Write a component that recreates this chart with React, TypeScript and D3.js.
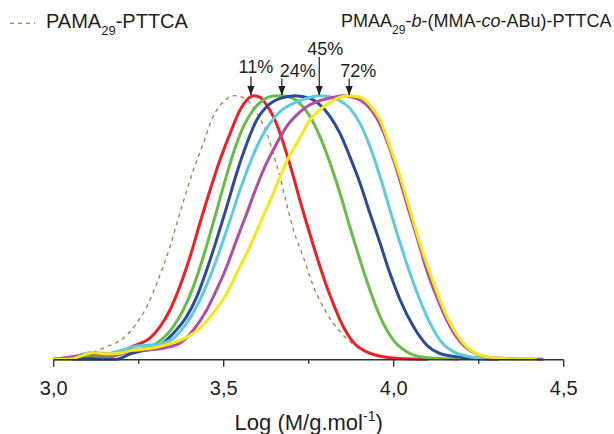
import React from "react";
import * as d3 from "d3";

type Pt = [number, number];

// Series: [log(M), normalised intensity]
const pama: Pt[] = [[3.000,0],[3.048,0.003],[3.107,0.023],[3.156,0.048],[3.205,0.080],[3.244,0.137],[3.274,0.200],[3.303,0.288],[3.342,0.427],[3.371,0.554],[3.411,0.718],[3.440,0.819],[3.469,0.921],[3.499,0.977],[3.533,1.0],[3.568,0.984],[3.597,0.934],[3.626,0.860],[3.646,0.780],[3.666,0.690],[3.685,0.590],[3.705,0.491],[3.734,0.389],[3.764,0.276],[3.803,0.175],[3.842,0.105],[3.891,0.048],[3.940,0.016],[3.989,0.004],[4.019,0]];
const s11: Pt[] = [[3.000,0],[3.058,0.005],[3.107,0.010],[3.156,0.010],[3.195,0.020],[3.234,0.050],[3.283,0.080],[3.313,0.124],[3.342,0.187],[3.371,0.276],[3.401,0.389],[3.430,0.516],[3.460,0.642],[3.489,0.756],[3.519,0.857],[3.548,0.946],[3.568,0.984],[3.587,1.0],[3.607,0.994],[3.626,0.965],[3.646,0.921],[3.666,0.857],[3.685,0.781],[3.705,0.693],[3.724,0.604],[3.744,0.516],[3.774,0.389],[3.803,0.276],[3.822,0.212],[3.842,0.150],[3.881,0.065],[3.930,0.023],[3.989,0.006],[4.058,0.001],[4.100,0]];
const s24: Pt[] = [[3.000,0],[3.058,0.010],[3.107,0.015],[3.156,0.010],[3.195,0.020],[3.234,0.035],[3.254,0.038],[3.303,0.061],[3.352,0.124],[3.381,0.187],[3.411,0.276],[3.440,0.389],[3.469,0.516],[3.499,0.655],[3.528,0.781],[3.558,0.883],[3.587,0.946],[3.616,0.984],[3.646,0.999],[3.671,1.0],[3.705,0.990],[3.724,0.971],[3.754,0.921],[3.783,0.845],[3.813,0.744],[3.842,0.630],[3.871,0.503],[3.901,0.377],[3.930,0.263],[3.960,0.162],[3.999,0.073],[4.038,0.029],[4.087,0.008],[4.156,0.002],[4.190,0]];
const s35: Pt[] = [[3.000,0],[3.185,0],[3.224,0.020],[3.254,0.030],[3.303,0.045],[3.352,0.099],[3.391,0.162],[3.421,0.238],[3.450,0.339],[3.479,0.453],[3.509,0.579],[3.538,0.706],[3.568,0.819],[3.597,0.908],[3.626,0.958],[3.666,0.990],[3.710,1.0],[3.754,0.990],[3.783,0.965],[3.813,0.921],[3.842,0.857],[3.871,0.769],[3.901,0.668],[3.930,0.554],[3.960,0.440],[3.989,0.326],[4.019,0.225],[4.058,0.124],[4.097,0.054],[4.136,0.022],[4.195,0.008],[4.254,0.002],[4.310,0]];
const s45: Pt[] = [[3.000,0],[3.048,0.003],[3.087,0.020],[3.107,0.025],[3.156,0.022],[3.195,0.033],[3.234,0.048],[3.283,0.054],[3.313,0.058],[3.352,0.080],[3.391,0.137],[3.430,0.225],[3.460,0.314],[3.489,0.415],[3.519,0.529],[3.548,0.642],[3.577,0.744],[3.607,0.832],[3.636,0.895],[3.666,0.940],[3.705,0.971],[3.744,0.990],[3.781,1.0],[3.813,0.996],[3.842,0.981],[3.871,0.952],[3.901,0.895],[3.930,0.807],[3.960,0.693],[3.989,0.567],[4.019,0.440],[4.048,0.326],[4.077,0.225],[4.107,0.137],[4.136,0.073],[4.175,0.029],[4.225,0.010],[4.274,0.004],[4.330,0.001],[4.440,0]];
const s60: Pt[] = [[3.000,0],[3.058,0.010],[3.107,0.020],[3.156,0.015],[3.195,0.020],[3.234,0.033],[3.283,0.036],[3.332,0.045],[3.371,0.061],[3.411,0.111],[3.450,0.187],[3.479,0.263],[3.509,0.352],[3.538,0.453],[3.568,0.554],[3.597,0.655],[3.626,0.744],[3.656,0.819],[3.685,0.883],[3.715,0.927],[3.744,0.958],[3.783,0.981],[3.822,0.994],[3.852,1.0],[3.891,0.990],[3.921,0.965],[3.950,0.915],[3.979,0.832],[4.009,0.718],[4.038,0.592],[4.068,0.465],[4.097,0.339],[4.126,0.238],[4.156,0.149],[4.195,0.067],[4.244,0.020],[4.293,0.006],[4.352,0.002],[4.440,0]];
const s72: Pt[] = [[3.000,0],[3.048,0],[3.087,0.016],[3.117,0.025],[3.156,0.020],[3.195,0.023],[3.224,0.033],[3.254,0.037],[3.303,0.046],[3.352,0.063],[3.401,0.090],[3.430,0.118],[3.469,0.175],[3.509,0.250],[3.548,0.352],[3.577,0.427],[3.607,0.516],[3.646,0.630],[3.685,0.750],[3.724,0.840],[3.754,0.908],[3.783,0.946],[3.813,0.975],[3.842,0.994],[3.869,1.0],[3.901,0.994],[3.930,0.965],[3.960,0.908],[3.989,0.807],[4.019,0.693],[4.048,0.567],[4.077,0.440],[4.107,0.326],[4.136,0.225],[4.166,0.137],[4.205,0.061],[4.254,0.016],[4.313,0.004],[4.372,0.001],[4.420,0]];

const seriesData = [s11, s24, s35, s45, s60, s72];
const seriesColors = ["#ee1f25", "#68bd46", "#2b4a9c", "#5fcadf", "#ad4fa2", "#f4e818"];

const majorTicks = [3.0, 3.5, 4.0, 4.5];
const minorTicks = [3.25, 3.75, 4.25];

const arrowLabels = ["11%", "24%", "45%", "72%"];
const arrowPeaks = [3.580, 3.671, 3.781, 3.869];

const W = 614, H = 434;
const x = d3.scaleLinear().domain([3, 4.5]).range([53.7, 563.7]);
const y = d3.scaleLinear().domain([0, 1]).range([359.3, 95.7]);
const line = d3.line<Pt>().x(d => x(d[0])).y(d => y(d[1])).curve(d3.curveMonotoneX);
const fmt = d3.formatLocale({ decimal: ",", thousands: ".", grouping: [3], currency: ["", ""] }).format(".1f");

const FONT = "'Liberation Sans', Arial, Helvetica, sans-serif";
const TXT = "#231f20";

// label placement (offsets from arrow x, baseline y, arrow top)
const labelDx = [5, 16, 6, 9];
const labelY = [73.3, 76.7, 54.5, 76.7];
const arrowTop = [76.5, 78.5, 57, 78.5];

export default function App() {
  const axisY = 359.8;
  return (
    <svg width={W} height={H} style={{ position: "absolute", left: 0, top: 0, background: "#fff" }} fontFamily={FONT}>
      <rect width={W} height={H} fill="#fff" />
      <defs>
        <marker id="ah" viewBox="0 0 8 10" refX="4" refY="10" markerWidth="8" markerHeight="10" markerUnits="userSpaceOnUse" orient="auto-start-reverse">
          <path d="M0,0 L8,0 L4,10 Z" fill="#231f20" />
        </marker>
      </defs>

      {/* dashed reference */}
      <path d={line(pama) || ""} fill="none" stroke="#8d8a4e" strokeWidth={1.3} strokeDasharray="4,4" />
      {seriesData.map((s, i) => (
        <path key={i} d={line(s) || ""} fill="none" stroke={seriesColors[i]} strokeWidth={3} strokeLinejoin="round" />
      ))}

      {/* x axis */}
      <line x1={x(3)} x2={x(4.5)} y1={axisY} y2={axisY} stroke="#333" strokeWidth={1.4} />
      {majorTicks.map(t => (
        <g key={t}>
          <line x1={x(t)} x2={x(t)} y1={axisY} y2={axisY + 7} stroke="#333" strokeWidth={1.4} />
          <text x={x(t)} y={395.3} textAnchor="middle" fontSize={20} fill={TXT}>{fmt(t)}</text>
        </g>
      ))}
      {minorTicks.map(t => (
        <line key={t} x1={x(t)} x2={x(t)} y1={axisY} y2={axisY + 4} stroke="#333" strokeWidth={1.4} />
      ))}
      <text x={(x(3) + x(4.5)) / 2} y={430} textAnchor="middle" fontSize={22} fill={TXT}>
        Log (M/g.mol<tspan dy={-9} fontSize={14}>-1</tspan><tspan dy={9}>)</tspan>
      </text>

      {/* arrows + labels */}
      {arrowLabels.map((lab, i) => {
        const ax = x(arrowPeaks[i]);
        return (
          <g key={lab}>
            <line x1={ax} x2={ax} y1={arrowTop[i]} y2={95} stroke="#231f20" strokeWidth={1.2} />
            <path d={`M${ax - 3.5},${86} L${ax + 3.5},${86} L${ax},${95.5} Z`} fill="#231f20" />
            <text x={ax + labelDx[i]} y={labelY[i]} textAnchor="middle" fontSize={18} fill={TXT}>{lab}</text>
          </g>
        );
      })}

      {/* legends */}
      <line x1={10} x2={35} y1={23.3} y2={23.3} stroke="#8d8a4e" strokeWidth={1.3} strokeDasharray="4,4" />
      <text x={46} y={28.3} fontSize={20} fill={TXT}>
        PAMA<tspan dy={6.7} fontSize={13}>29</tspan><tspan dy={-6.7}>-PTTCA</tspan>
      </text>
      <text x={611.5} y={27} fontSize={18} fill={TXT} textAnchor="end">
        PMAA<tspan dy={6.5} fontSize={12}>29</tspan><tspan dy={-6.5}>-</tspan><tspan fontStyle="italic">b</tspan>-(MMA-<tspan fontStyle="italic">co</tspan>-ABu)-PTTCA
      </text>
    </svg>
  );
}
